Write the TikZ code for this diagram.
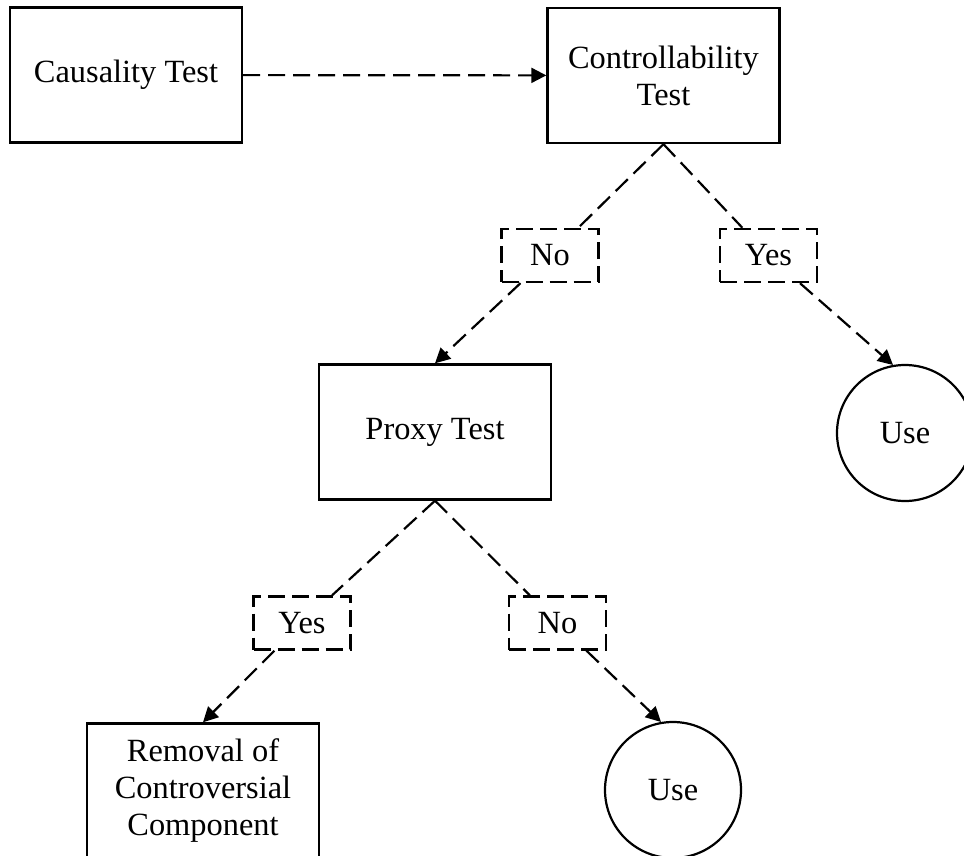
\documentclass[tikz,border=0pt]{standalone}
\usepackage{fontspec}
\setmainfont{Liberation Serif}
\usetikzlibrary{arrows.meta}

\begin{document}
\begin{tikzpicture}[x=0.5pt, y=-0.5pt,
    font=\fontsize{16.2}{18.5}\selectfont,
    testbox/.style={draw, line width=1.2pt, minimum width=116pt, minimum height=67.5pt, align=center, inner sep=2pt},
    choice/.style={draw, dash pattern=on 8.5pt off 3.5pt, line width=1.2pt, minimum width=48.5pt, minimum height=26.5pt, inner sep=0pt},
    usecircle/.style={draw, circle, line width=1.1pt, minimum size=68pt, inner sep=0pt},
    link/.style={dash pattern=on 8.5pt off 4pt, line width=1.1pt},
    arr/.style={link, -{Triangle[length=7.5pt, width=7.5pt]}}]
    \clip (0,0) rectangle (964,856);

    % tests
    \node[testbox] (causal) at (126,75) {Causality Test};
    \node[testbox] (ctrl) at (663.5,75.5) {Controllability\\Test};
    \node[testbox] (proxy) at (435,432) {Proxy Test};
    \node[testbox] (removal) at (203,791) {Removal of\\Controversial\\Component};

    % answers
    \node[choice] (no1) at (550,255.5) {No};
    \node[choice] (yes1) at (768.5,255.5) {Yes};
    \node[choice] (yes2) at (302,623) {Yes};
    \node[choice] (no2) at (557.5,623) {No};

    \node[usecircle] (use1) at (905,433) {Use};
    \node[usecircle] (use2) at (673,790) {Use};

    \draw[arr] (causal) -- (ctrl);

    \draw[link] (ctrl.south) -- (no1);
    \draw[arr] (no1) -- (proxy.north);
    \draw[link] (ctrl.south) -- (yes1);
    \draw[arr] (yes1) -- (use1.100);

    \draw[link] (proxy.south) -- (yes2);
    \draw[arr] (yes2) -- (removal.north);
    \draw[link] (proxy.south) -- (no2);
    \draw[arr] (no2) -- (use2.100);
\end{tikzpicture}
\end{document}
